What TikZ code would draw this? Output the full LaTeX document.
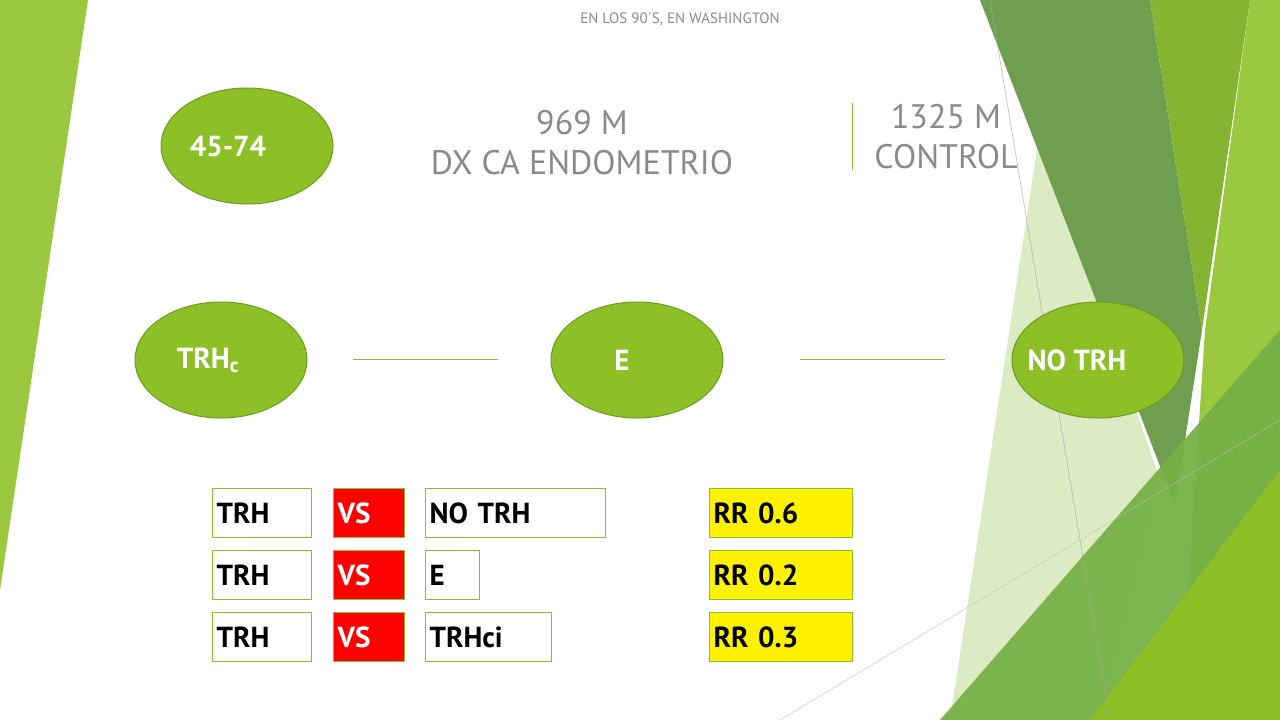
\documentclass[tikz,border=0pt]{standalone}
\usepackage{fontspec}
\usetikzlibrary{shapes.geometric}
\setmainfont{PT Sans}
\definecolor{leaf}{HTML}{8DC026}
\definecolor{leafdark}{HTML}{6E9A22}
\definecolor{moss}{HTML}{6E9E4E}
\definecolor{olive}{HTML}{84B432}
\definecolor{lime}{HTML}{9AC83E}
\definecolor{pale}{HTML}{DCEBC4}
\definecolor{grass}{HTML}{76B046}
\definecolor{txtgray}{HTML}{8A8A8A}
\tikzset{
  oval/.style={ellipse,draw=leafdark,fill=leaf,line width=1pt,minimum width=172pt,minimum height=116pt},
  ovaltext/.style={text=white,font=\fontsize{29}{32}\selectfont\bfseries},
  cell/.style={draw=leaf,line width=1.2pt,anchor=north west,minimum height=49pt,inner sep=4pt,
    font=\fontsize{29}{32}\selectfont\bfseries,align=left,text depth=0pt},
  title/.style={text=txtgray,font=\fontsize{34}{40}\selectfont,align=center}
}
\begin{document}
\begin{tikzpicture}[x=1pt,y=-1pt]
\useasboundingbox (0,0) rectangle (1280,720);
\fill[white] (0,0) rectangle (1280,720);
% background
\fill[lime] (0,0) -- (88,0) -- (0,590) -- cycle;
\fill[pale] (1040,130) -- (1160,480) -- (1100,720) -- (950,720) -- cycle;
\fill[moss] (980,0) -- (1150,0) -- (1202,330) -- (1175,505) -- cycle;
\fill[olive] (1150,0) -- (1250,0) -- (1202,330) -- cycle;
\fill[lime] (1250,0) -- (1280,0) -- (1280,720) -- (1180,720) -- (1205,330) -- cycle;
\fill[grass,opacity=.95] (940,720) -- (1280,330) -- (1280,720) -- cycle;
\fill[leaf] (1090,720) -- (1280,470) -- (1280,720) -- cycle;
\draw[gray!70,line width=.4pt] (990,0) -- (1110,720);
\draw[gray!50,line width=.4pt] (780,720) -- (1280,420);
% header
\node[text=txtgray,font=\fontsize{15}{18}\selectfont] (head) at (680,19) {EN LOS 90´S, EN WASHINGTON};
\node[oval] (age) at (247,146) {};
\node[ovaltext] at (228,146) {45-74};
\node[title] (cases) at (582,143) {969 M\\DX CA ENDOMETRIO};
\draw[leaf,line width=.8pt] (852,103) -- (852,170);
\node[title] (ctrl) at (946,137) {1325 M\\CONTROL};
% groups
\node[oval] (trhc) at (221,360) {};
\node[ovaltext] at (208,360) {TRH\textsubscript{c}};
\node[oval] (e) at (637,360) {};
\node[ovaltext] at (622,360) {E};
\node[oval] (notrh) at (1098,360) {};
\node[ovaltext] at (1077,360) {NO TRH};
\coordinate (l1a) at (353,359); \coordinate (l1b) at (498,359);
\coordinate (l2a) at (800,359); \coordinate (l2b) at (945,359);
\draw[leaf,line width=.8pt] (l1a) -- (l1b);
\draw[leaf,line width=.8pt] (l2a) -- (l2b);
% comparisons
\foreach \y/\other/\w/\iw/\rr in {488/NO TRH/180/172/0.6, 550/E/54/46/0.2, 612/TRHci/126/118/0.3}{
  \node[cell,minimum width=99pt,text width=91pt] (a\y) at (212,\y) {TRH};
  \node[cell,fill=red,text=white,minimum width=71pt,text width=63pt] (vs\y) at (333,\y) {VS};
  \node[cell,minimum width=\w pt,text width=\iw pt] (b\y) at (425,\y) {\other};
  \node[cell,fill=yellow,minimum width=143pt,text width=135pt] (rr\y) at (709,\y) {RR \rr};
}
\end{tikzpicture}
\end{document}
